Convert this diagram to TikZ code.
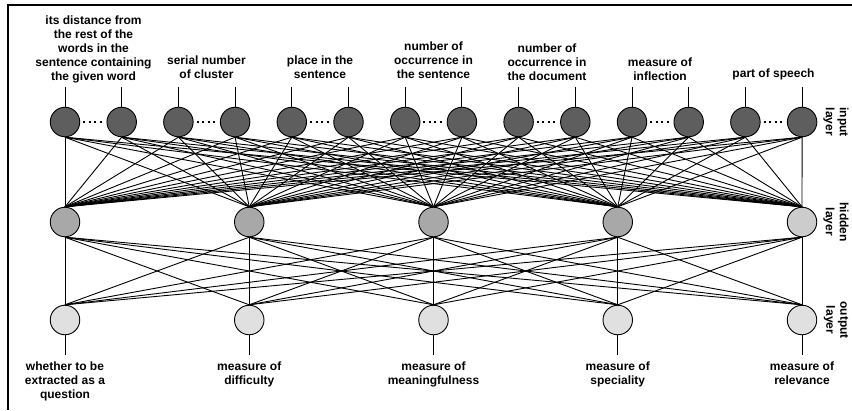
\documentclass[tikz,border=0pt]{standalone}
\usepackage{fontspec}
\setmainfont{Liberation Sans}
\pgfdeclarelayer{bg}
\pgfsetlayers{bg,main}
\definecolor{inpgray}{HTML}{5E5E5E}
\definecolor{hidgray}{HTML}{A8A8A8}
\definecolor{hidlight}{HTML}{CCCCCC}
\definecolor{outgray}{HTML}{E0E0E0}
\begin{document}
\begin{tikzpicture}[x=1pt,y=-1pt,
  neuron/.style={circle,draw=black,line width=0.9pt,minimum size=29.5pt,inner sep=0pt},
  inpnode/.style={neuron,fill=inpgray},
  hidnode/.style={neuron,fill=hidgray},
  outnode/.style={neuron,fill=outgray},
  lbl/.style={font=\bfseries\fontsize{12}{14}\selectfont,align=center,inner sep=0pt},
  sidelbl/.style={lbl,rotate=-90},
  conn/.style={line width=0.9pt},
  dotline/.style={line width=2pt,dash pattern=on 2pt off 3.5pt,line cap=butt}]
\useasboundingbox (0,0) rectangle (852,410);
\begin{pgfonlayer}{bg}
\fill[white] (0,0) rectangle (852,410);
\end{pgfonlayer}
\draw[line width=1.6pt] (8,410) -- (8,5) -- (852,5);

% input nodes
\foreach \i in {1,...,14} {
  \pgfmathsetmacro{\xx}{65+(\i-1)*56.7}
  \node[inpnode] (i\i) at (\xx,122) {};
  \coordinate (t\i) at (\xx,87);
}
% output nodes
\foreach \j in {1,...,5} {
  \pgfmathsetmacro{\xx}{65+(\j-1)*184.25}
  \node[outnode] (o\j) at (\xx,320) {};
  \coordinate (b\j) at (\xx,355);
}
\node[hidnode] (h1) at (65,222) {};
\node[hidnode] (h2) at (249.25,222) {};
\node[hidnode] (h3) at (433.5,222) {};
\node[hidnode] (h4) at (617.75,222) {};
\node[neuron,fill=hidlight] (h5) at (802,222) {};

\begin{pgfonlayer}{bg}
\foreach \i in {1,...,14} {
  \draw[conn] (t\i) -- (i\i.north);
  \foreach \j in {1,...,5} { \draw[conn] (i\i.south) -- (h\j.north); }
}
\foreach \j in {1,...,5} {
  \draw[conn] (o\j.south) -- (b\j);
  \foreach \k in {1,...,5} { \draw[conn] (h\j.south) -- (o\k.north); }
}
\end{pgfonlayer}
% dotted links in pairs
\foreach \a/\b in {1/2,3/4,5/6,7/8,9/10,11/12,13/14} {
  \draw[dotline] ([xshift=3pt]i\a.east) -- ([xshift=-3pt]i\b.west);
}

% input labels
\node[lbl,anchor=south] (l1) at (93.5,83.5) {its distance from\\the rest of the\\words in the\\sentence containing\\the given word};
\node[lbl,anchor=south] (l2) at (206.5,79) {serial number\\of cluster};
\node[lbl,anchor=south] (l3) at (320,79) {place in the\\sentence};
\node[lbl,anchor=south] (l4) at (433.5,79) {number of\\occurrence in\\the sentence};
\node[lbl,anchor=south] (l5) at (547,81) {number of\\occurrence in\\the document};
\node[lbl,anchor=south] (l6) at (660,81) {measure of\\inflection};
\node[lbl,anchor=south] (l7) at (773.5,80) {part of speech};

% output labels
\node[lbl,anchor=north] (r1) at (65,362) {whether to be\\extracted as a\\question};
\node[lbl,anchor=north] (r2) at (249.25,362) {measure of\\difficulty};
\node[lbl,anchor=north] (r3) at (433.5,362) {measure of\\meaningfulness};
\node[lbl,anchor=north] (r4) at (617.75,362) {measure of\\speciality};
\node[lbl,anchor=north] (r5) at (802,362) {measure of\\relevance};

% side labels
\node[sidelbl] (s1) at (836,122) {input\\layer};
\node[sidelbl] (s2) at (836,222) {hidden\\layer};
\node[sidelbl] (s3) at (836,320) {output\\layer};
\end{tikzpicture}
\end{document}
